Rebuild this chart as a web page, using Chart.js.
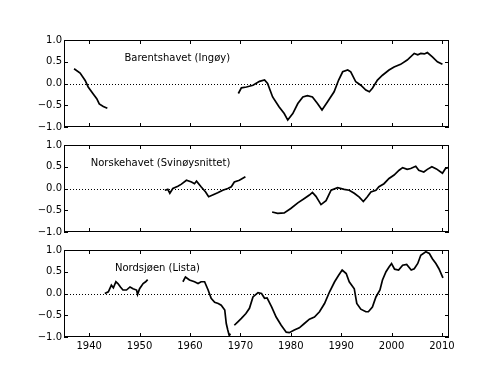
<!DOCTYPE html>
<html>
<head>
<meta charset="utf-8">
<script src="https://cdn.jsdelivr.net/npm/chart.js@4.4.1/dist/chart.umd.min.js"></script>
<style>
  html, body { margin: 0; padding: 0; background: #fff; }
  #wrap { position: relative; width: 500px; height: 376px; }
  .panel { position: absolute; left: 0; width: 500px; }
</style>
</head>
<body>
<div id="wrap">
  <div class="panel" style="top:30px;height:107px"><canvas id="p1"></canvas></div>
  <div class="panel" style="top:135px;height:107px"><canvas id="p2"></canvas></div>
  <div class="panel" style="top:240px;height:117px"><canvas id="p3"></canvas></div>
</div>
<script>
/* ── Data (null = gap in the series) ─────────────────── */
const barYears = [1937.0, 1938.2, 1939.2, 1939.8, 1940.8, 1941.5, 1942.0, 1942.8, 1943.6, 1956,
  1969.6, 1970.2, 1971.2, 1972.5, 1973.8, 1974.8, 1975.4, 1976.4, 1977.7, 1978.7, 1979.4,
  1980.4, 1981.4, 1982.4, 1983.3, 1984.3, 1985.3, 1986.2, 1987.3, 1988.6, 1989.5, 1990.3,
  1991.3, 1991.9, 1992.9, 1993.9, 1994.9, 1995.6, 1996.2, 1997.2, 1998.2, 1999.5, 2000.5,
  2001.8, 2003.1, 2004.5, 2005.2, 2005.8, 2006.5, 2007.1, 2008.1, 2009.1, 2010.1];
const barVals = [0.34, 0.24, 0.07, -0.08, -0.24, -0.35, -0.47, -0.53, -0.57, null,
  -0.23, -0.1, -0.08, -0.04, 0.05, 0.08, 0.0, -0.31, -0.54, -0.69, -0.84,
  -0.69, -0.46, -0.31, -0.28, -0.31, -0.46, -0.61, -0.42, -0.19, 0.08, 0.27,
  0.31, 0.27, 0.04, -0.04, -0.15, -0.19, -0.11, 0.08, 0.19, 0.31, 0.38,
  0.44, 0.54, 0.69, 0.66, 0.69, 0.68, 0.71, 0.61, 0.5, 0.44];

const norYears = [1955.0, 1955.6, 1956.0, 1956.6, 1957.6, 1958.3, 1959.3, 1960.3, 1960.9, 1961.3,
  1962.2, 1963.1, 1963.7, 1964.5, 1965.5, 1966.5, 1967.5, 1968.2, 1968.8, 1969.8, 1971.0, 1974,
  1976.3, 1977.4, 1978.7, 1980.0, 1981.4, 1982.7, 1983.7, 1984.3, 1985.0, 1986.0, 1987.0,
  1988.0, 1989.3, 1990.6, 1991.6, 1992.6, 1993.6, 1994.4, 1995.2, 1995.9, 1996.9, 1997.5,
  1998.5, 1999.5, 2000.5, 2001.5, 2002.2, 2003.1, 2003.8, 2004.8, 2005.4, 2006.4, 2007.1,
  2008.0, 2008.9, 2010.1, 2010.7, 2011.2];
const norVals = [-0.04, -0.02, -0.11, 0.0, 0.05, 0.10, 0.19, 0.15, 0.11, 0.17,
  0.04, -0.08, -0.19, -0.15, -0.10, -0.04, 0.0, 0.04, 0.15, 0.19, 0.27, null,
  -0.54, -0.57, -0.56, -0.46, -0.33, -0.23, -0.15, -0.09, -0.18, -0.37, -0.28,
  -0.04, 0.02, -0.02, -0.04, -0.11, -0.2, -0.3, -0.19, -0.08, -0.04, 0.04,
  0.11, 0.23, 0.31, 0.42, 0.48, 0.44, 0.46, 0.51, 0.42, 0.38, 0.44,
  0.50, 0.45, 0.35, 0.46, 0.48];

const nsYears = [1943.1, 1943.8, 1944.4, 1944.8, 1945.3, 1945.7, 1946.2, 1946.7, 1947.4, 1948.1,
  1948.7, 1949.4, 1949.6, 1950.0, 1950.7, 1951.2, 1951.6, 1955,
  1958.6, 1959.1, 1959.9, 1960.9, 1961.6, 1962.2, 1962.9, 1963.6, 1964.2, 1964.9, 1965.6,
  1966.2, 1966.9, 1967.2, 1967.5, 1967.8, 1968.0, 1968.4,
  1968.8, 1969.5, 1970.2, 1971.1, 1971.8, 1972.5, 1973.5, 1974.2, 1974.8, 1975.3, 1976.2,
  1977.1, 1978.1, 1979.1, 1979.7, 1980.7, 1981.7, 1982.7, 1983.7, 1984.7, 1985.7, 1986.7,
  1987.7, 1988.7, 1989.5, 1990.2, 1991.0, 1991.6, 1992.6, 1993.1, 1993.9, 1994.9, 1995.4,
  1996.2, 1996.9, 1997.7, 1998.2, 1998.9, 1999.5, 2000.0, 2000.6, 2001.4, 2002.2, 2003.0,
  2003.9, 2004.5, 2005.2, 2005.8, 2006.8, 2007.5, 2008.1, 2008.8, 2009.4, 2010.2];
const nsVals = [0, 0.04, 0.19, 0.13, 0.27, 0.23, 0.15, 0.08, 0.08, 0.15,
  0.11, 0.08, -0.02, 0.11, 0.23, 0.27, 0.32, null,
  0.27, 0.38, 0.31, 0.27, 0.23, 0.27, 0.27, 0.08, -0.11, -0.2, -0.23,
  -0.27, -0.38, -0.69, -0.84, -0.97, -0.92, null,
  -0.73, -0.65, -0.57, -0.46, -0.34, -0.08, 0.02, 0.0, -0.11, -0.1, -0.31,
  -0.54, -0.73, -0.89, -0.90, -0.84, -0.79, -0.69, -0.59, -0.54, -0.42, -0.23,
  0.04, 0.27, 0.42, 0.54, 0.46, 0.27, 0.11, -0.23, -0.36, -0.42, -0.42,
  -0.31, -0.08, 0.08, 0.31, 0.5, 0.61, 0.69, 0.56, 0.54, 0.65, 0.67,
  0.54, 0.57, 0.69, 0.88, 0.96, 0.92, 0.80, 0.69, 0.57, 0.36];

const xTicks = [1940, 1950, 1960, 1970, 1980, 1990, 2000, 2010];
const yTicks = [-1.0, -0.5, 0.0, 0.5, 1.0];
const panelTitles = ['Barentshavet (Ingøy)', 'Norskehavet (Svinøysnittet)', 'Nordsjøen (Lista)'];
const titleYears = [1947.0, 1940.3, 1945.1];
const titleValue = 0.58;

const FONT = 'DejaVu Sans';

/* ── Frame, inward ticks, dotted zero line, panel title ── */
const panelDeco = {
  id: 'panelDeco',
  beforeDatasetsDraw(chart) {
    const { ctx, chartArea: a, scales: { y } } = chart;
    const y0 = Math.round(y.getPixelForValue(0)) + 0.5;
    ctx.save();
    ctx.strokeStyle = '#000';
    ctx.lineWidth = 1;
    ctx.setLineDash([1, 2]);
    ctx.beginPath();
    ctx.moveTo(a.left, y0);
    ctx.lineTo(a.right, y0);
    ctx.stroke();
    ctx.restore();
  },
  afterDatasetsDraw(chart, args, opts) {
    const { ctx, chartArea: a, scales: { x, y } } = chart;
    ctx.save();
    ctx.strokeStyle = '#000';
    ctx.lineWidth = 1;
    ctx.strokeRect(a.left + 0.5, a.top + 0.5, a.right - a.left - 1, a.bottom - a.top - 1);
    ctx.beginPath();
    xTicks.forEach((v) => {
      const px = Math.round(x.getPixelForValue(v)) + 0.5;
      ctx.moveTo(px, a.top); ctx.lineTo(px, a.top + 4);
      ctx.moveTo(px, a.bottom); ctx.lineTo(px, a.bottom - 4);
    });
    yTicks.forEach((v) => {
      const py = Math.round(y.getPixelForValue(v)) + 0.5;
      ctx.moveTo(a.left, py); ctx.lineTo(a.left + 4, py);
      ctx.moveTo(a.right, py); ctx.lineTo(a.right - 4, py);
    });
    ctx.stroke();
    // title sits at data coordinates, like a matplotlib text()
    ctx.fillStyle = '#000';
    ctx.font = '10px "' + FONT + '"';
    ctx.textAlign = 'left';
    ctx.textBaseline = 'middle';
    ctx.fillText(opts.title, x.getPixelForValue(opts.tx), y.getPixelForValue(opts.ty));
    ctx.restore();
  },
};

function makePanel(id, years, vals, idx, showX) {
  const pts = years.map((yr, i) => ({ x: yr, y: vals[i] }));
  new Chart(document.getElementById(id), {
    type: 'line',
    data: {
      datasets: [{
        data: pts,
        borderColor: '#000',
        borderWidth: 1.7,
        pointRadius: 0,
        tension: 0,
        spanGaps: false,
      }],
    },
    options: {
      responsive: true,
      maintainAspectRatio: false,
      animation: false,
      layout: { padding: { top: 10, left: 0, right: 51, bottom: showX ? 0 : 10 } },
      plugins: {
        legend: { display: false },
        tooltip: { enabled: false },
        panelDeco: { title: panelTitles[idx], tx: titleYears[idx], ty: titleValue },
      },
      scales: {
        x: {
          type: 'linear',
          display: showX,
          min: 1935,
          max: 2011.4,
          afterBuildTicks: (s) => { s.ticks = xTicks.map((v) => ({ value: v })); },
          afterFit: (s) => { if (showX) s.height = 20; },
          grid: { display: false, drawTicks: false },
          border: { display: false },
          ticks: { color: '#000', padding: 3, maxRotation: 0, font: { family: FONT, size: 10 },
            callback: (v) => String(v) },
        },
        y: {
          min: -1,
          max: 1,
          afterBuildTicks: (s) => { s.ticks = yTicks.map((v) => ({ value: v })); },
          afterFit: (s) => { s.width = 64; },
          grid: { display: false, drawTicks: false },
          border: { display: false },
          ticks: { color: '#000', padding: 2, font: { family: FONT, size: 10 },
            callback: (v) => (v < 0 ? '\u2212' : '') + Math.abs(v).toFixed(1) },
        },
      },
    },
    plugins: [panelDeco],
  });
}

makePanel('p1', barYears, barVals, 0, false);
makePanel('p2', norYears, norVals, 1, false);
makePanel('p3', nsYears, nsVals, 2, true);
</script>
</body>
</html>
